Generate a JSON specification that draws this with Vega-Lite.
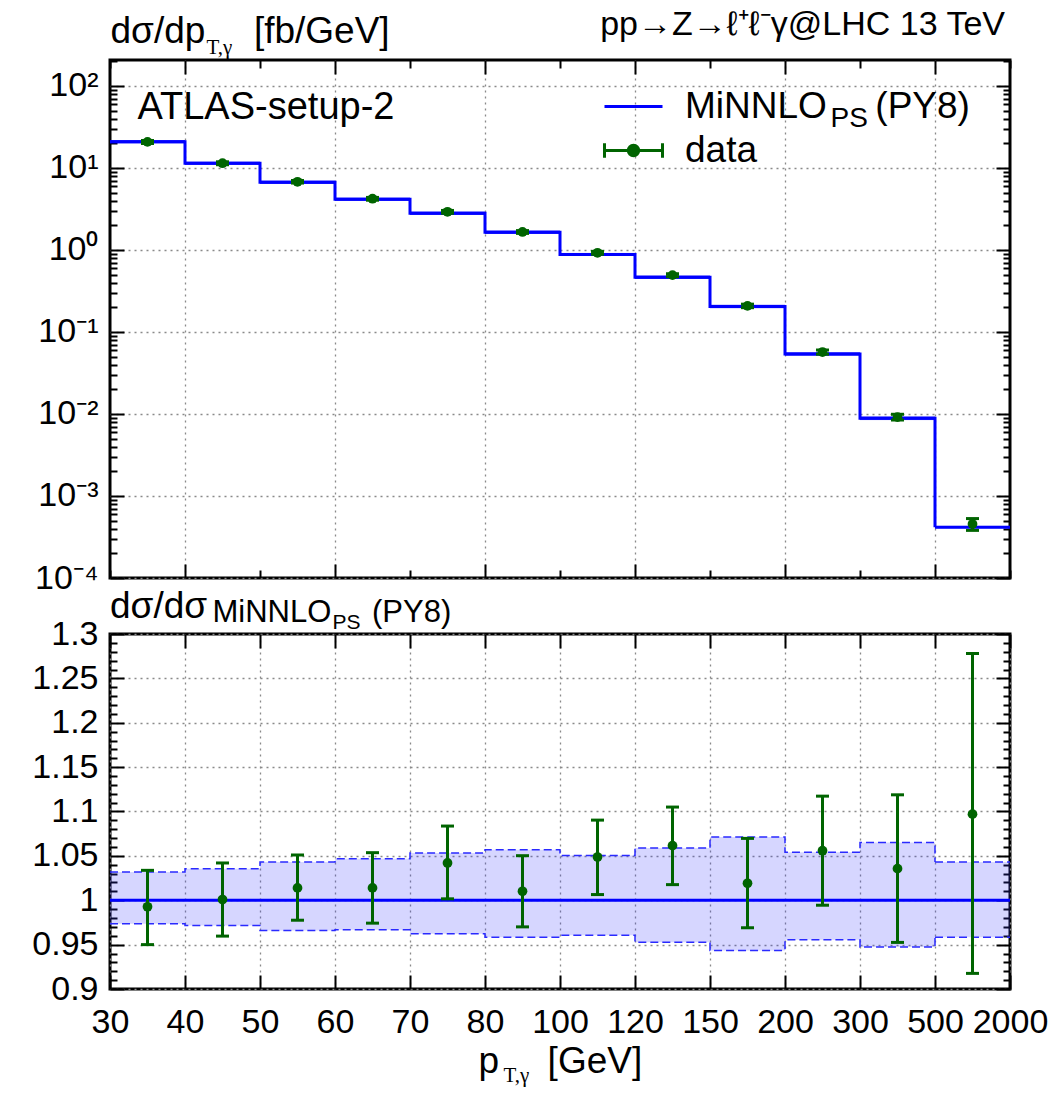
{
  "$schema": "https://vega.github.io/schema/vega-lite/v6.json",
  "background": "white",
  "padding": {"left": 30, "top": 6, "right": 0, "bottom": 0},
  "config": {
    "font": "Liberation Sans",
    "view": {"stroke": "black", "strokeWidth": 3},
    "axis": {"domain": false, "tickColor": "black", "tickWidth": 2, "labelColor": "black", "labelFont": "Liberation Sans", "labelFontSize": 34, "titleFont": "Liberation Sans", "titleFontWeight": "normal", "titleColor": "black", "labelFlush": false, "labelOverlap": false, "gridColor": "#8a8a8a", "gridDash": [2, 4], "gridWidth": 1.3},
    "title": {"font": "Liberation Sans", "fontWeight": "normal", "color": "black"}
  },
  "datasets": {
    "bins": [
      {"lo": 30, "hi": 40, "pt": 35, "theory": 20.9, "band_lo": 20.35, "band_hi": 21.57, "data": 20.75, "data_lo": 19.86, "data_hi": 21.6, "ratio": 0.9926, "ratio_lo": 0.95, "ratio_hi": 1.0337, "rband_lo": 0.9735, "rband_hi": 1.0319},
      {"lo": 40, "hi": 50, "pt": 45, "theory": 11.4, "band_lo": 11.08, "band_hi": 11.81, "data": 11.41, "data_lo": 10.94, "data_hi": 11.88, "ratio": 1.0008, "ratio_lo": 0.9596, "ratio_hi": 1.042, "rband_lo": 0.9716, "rband_hi": 1.0356},
      {"lo": 50, "hi": 60, "pt": 55, "theory": 6.69, "band_lo": 6.46, "band_hi": 6.98, "data": 6.78, "data_lo": 6.54, "data_hi": 7.03, "ratio": 1.0139, "ratio_lo": 0.9775, "ratio_hi": 1.051, "rband_lo": 0.966, "rband_hi": 1.043},
      {"lo": 60, "hi": 70, "pt": 65, "theory": 4.15, "band_lo": 4.01, "band_hi": 4.34, "data": 4.21, "data_lo": 4.04, "data_hi": 4.37, "ratio": 1.0139, "ratio_lo": 0.9742, "ratio_hi": 1.0536, "rband_lo": 0.9667, "rband_hi": 1.0468},
      {"lo": 70, "hi": 80, "pt": 75, "theory": 2.8, "band_lo": 2.694, "band_hi": 2.949, "data": 2.92, "data_lo": 2.8, "data_hi": 3.03, "ratio": 1.042, "ratio_lo": 1.0016, "ratio_hi": 1.0836, "rband_lo": 0.9622, "rband_hi": 1.0532},
      {"lo": 80, "hi": 100, "pt": 90, "theory": 1.64, "band_lo": 1.572, "band_hi": 1.733, "data": 1.657, "data_lo": 1.591, "data_hi": 1.722, "ratio": 1.0101, "ratio_lo": 0.97, "ratio_hi": 1.0502, "rband_lo": 0.9584, "rband_hi": 1.057},
      {"lo": 100, "hi": 120, "pt": 110, "theory": 0.88, "band_lo": 0.8454, "band_hi": 0.9243, "data": 0.923, "data_lo": 0.886, "data_hi": 0.959, "ratio": 1.0487, "ratio_lo": 1.0064, "ratio_hi": 1.0903, "rband_lo": 0.9607, "rband_hi": 1.0503},
      {"lo": 120, "hi": 150, "pt": 135, "theory": 0.464, "band_lo": 0.4421, "band_hi": 0.4913, "data": 0.4925, "data_lo": 0.4722, "data_hi": 0.5127, "ratio": 1.0615, "ratio_lo": 1.0176, "ratio_hi": 1.105, "rband_lo": 0.9528, "rband_hi": 1.0589},
      {"lo": 150, "hi": 200, "pt": 175, "theory": 0.204, "band_lo": 0.1925, "band_hi": 0.2185, "data": 0.2079, "data_lo": 0.1977, "data_hi": 0.2182, "ratio": 1.0191, "ratio_lo": 0.969, "ratio_hi": 1.0697, "rband_lo": 0.9435, "rband_hi": 1.0712},
      {"lo": 200, "hi": 300, "pt": 250, "theory": 0.0539, "band_lo": 0.0515, "band_hi": 0.0568, "data": 0.05691, "data_lo": 0.0536, "data_hi": 0.06022, "ratio": 1.0558, "ratio_lo": 0.9944, "ratio_hi": 1.1173, "rband_lo": 0.9555, "rband_hi": 1.054},
      {"lo": 300, "hi": 500, "pt": 400, "theory": 0.00886, "band_lo": 0.008392, "band_hi": 0.009438, "data": 0.009175, "data_lo": 0.008439, "data_hi": 0.009913, "ratio": 1.0356, "ratio_lo": 0.9525, "ratio_hi": 1.1188, "rband_lo": 0.9472, "rband_hi": 1.0652},
      {"lo": 500, "hi": 2000, "pt": 1250, "theory": 0.000415, "band_lo": 0.0003977, "band_hi": 0.0004329, "data": 0.0004553, "data_lo": 0.0003808, "data_hi": 0.0005304, "ratio": 1.097, "ratio_lo": 0.9176, "ratio_hi": 1.278, "rband_lo": 0.9584, "rband_hi": 1.0431}
    ]
  },
  "spacing": 56,
  "bounds": "flush",
  "vconcat": [
    {
      "width": 900,
      "height": 518,
      "data": {"name": "bins"},
      "title": {"text": "pp→Z→ℓ⁺ℓ⁻γ@LHC 13 TeV", "anchor": "end", "frame": "group", "orient": "top", "offset": -57, "baseline": "alphabetic", "fontSize": 34, "dx": -5},
      "layer": [
        {
          "mark": {"type": "rect", "fill": "#3030ff", "fillOpacity": 0.2},
          "encoding": {
            "x": {"field": "lo", "type": "quantitative", "scale": {"domain": [30, 40, 50, 60, 70, 80, 100, 120, 150, 200, 300, 500, 2000], "range": [0, 75, 150, 225, 300, 375, 450, 525, 600, 675, 750, 825, 900], "nice": false, "zero": false},
              "axis": {"orient": "bottom", "values": [30, 40, 50, 60, 70, 80, 100, 120, 150, 200, 300, 500, 2000], "labels": false,
                "tickSize": {"condition": {"test": "indexof([40,60,80,120,200,500], datum.value) >= 0", "value": -14}, "value": -8},
                "grid": true, "gridOpacity": {"condition": {"test": "indexof([40,60,80,120,200,500], datum.value) >= 0", "value": 1}, "value": 0},
                "title": "ATLAS-setup-2", "titleFontSize": 38, "titleX": 27, "titleY": -460, "titleAlign": "left", "titleBaseline": "alphabetic", "titleAngle": 0}},
            "x2": {"field": "hi"},
            "y": {"field": "band_lo", "type": "quantitative", "scale": {"type": "log", "domain": [0.0001, 207], "nice": false},
              "axis": {"orient": "left", "values": [0.0001, 0.0002, 0.0003, 0.0004, 0.0005, 0.0006, 0.0007, 0.0008, 0.0009, 0.001, 0.002, 0.003, 0.004, 0.005, 0.006, 0.007, 0.008, 0.009, 0.01, 0.02, 0.03, 0.04, 0.05, 0.06, 0.07, 0.08, 0.09, 0.1, 0.2, 0.3, 0.4, 0.5, 0.6, 0.7, 0.8, 0.9, 1, 2, 3, 4, 5, 6, 7, 8, 9, 10, 20, 30, 40, 50, 60, 70, 80, 90, 100, 200],
                "labelExpr": "abs(log(datum.value)/LN10 - round(log(datum.value)/LN10)) < 0.001 ? ['10⁻⁴','10⁻³','10⁻²','10⁻¹','10⁰','10¹','10²'][round(log(datum.value)/LN10)+4] : ''",
                "labelPadding": 26, "labelBaseline": "middle",
                "tickSize": {"condition": {"test": "abs(log(datum.value)/LN10 - round(log(datum.value)/LN10)) < 0.001", "value": -14}, "value": -7},
                "grid": true, "gridOpacity": {"condition": {"test": "abs(log(datum.value)/LN10 - round(log(datum.value)/LN10)) < 0.001", "value": 1}, "value": 0},
                "title": "dσ/dp\u00a0\u00a0\u00a0\u00a0\u2009[fb/GeV]", "titleFontSize": 37, "titleAngle": 0, "titleX": 0, "titleY": -18, "titleAlign": "left", "titleBaseline": "alphabetic"}},
            "y2": {"field": "band_hi"}
          }
        },
        {
          "mark": {"type": "line", "interpolate": "step-after", "strokeWidth": 3},
          "encoding": {
            "x": {"field": "lo", "type": "quantitative", "scale": {"domain": [30, 40, 50, 60, 70, 80, 100, 120, 150, 200, 300, 500, 2000], "range": [0, 75, 150, 225, 300, 375, 450, 525, 600, 675, 750, 825, 900], "nice": false, "zero": false}, "axis": null},
            "y": {"field": "theory", "type": "quantitative", "scale": {"type": "log", "domain": [0.0001, 207], "nice": false}, "axis": null},
            "color": {"datum": "MiNNLO\u00a0\u00a0\u00a0\u00a0\u2009(PY8)", "scale": {"domain": ["MiNNLO\u00a0\u00a0\u00a0\u00a0\u2009(PY8)", "data"], "range": ["#0000ff", "#006400"]},
              "legend": {"orient": "none", "legendX": 505, "legendY": 28, "title": null, "padding": 0, "labelFont": "Liberation Sans", "labelFontSize": 37, "labelColor": "black", "labelLimit": 1000, "labelOffset": 33, "rowPadding": 6, "symbolSize": 841, "symbolStrokeWidth": 3,
                "encode": {"symbols": {"update": {
                  "shape": {"signal": "datum.value === 'data' ? 'M-2,0H2M-2,-0.5V0.5M2,-0.5V0.5M0.36,0A0.36,0.36,0,1,1,-0.36,0A0.36,0.36,0,1,1,0.36,0Z' : 'M-2,0H2'"},
                  "fill": {"signal": "datum.value === 'data' ? '#006400' : 'transparent'"},
                  "stroke": {"signal": "datum.value === 'data' ? '#006400' : '#0000ff'"},
                  "strokeWidth": {"value": 3}, "opacity": {"value": 1}, "size": {"value": 841}}}}}}
          }
        },
        {
          "mark": {"type": "rule", "color": "#0000ff", "strokeWidth": 3},
          "encoding": {
            "x": {"field": "lo", "type": "quantitative", "scale": {"domain": [30, 40, 50, 60, 70, 80, 100, 120, 150, 200, 300, 500, 2000], "range": [0, 75, 150, 225, 300, 375, 450, 525, 600, 675, 750, 825, 900], "nice": false, "zero": false}, "axis": null},
            "x2": {"field": "hi"},
            "y": {"field": "theory", "type": "quantitative", "scale": {"type": "log", "domain": [0.0001, 207], "nice": false}, "axis": null}
          }
        },
        {
          "mark": {"type": "rule", "color": "#006400", "strokeWidth": 3},
          "encoding": {
            "x": {"field": "pt", "type": "quantitative", "scale": {"domain": [30, 40, 50, 60, 70, 80, 100, 120, 150, 200, 300, 500, 2000], "range": [0, 75, 150, 225, 300, 375, 450, 525, 600, 675, 750, 825, 900], "nice": false, "zero": false}, "axis": null},
            "y": {"field": "data_lo", "type": "quantitative", "scale": {"type": "log", "domain": [0.0001, 207], "nice": false}, "axis": null},
            "y2": {"field": "data_hi"}
          }
        },
        {
          "mark": {"type": "tick", "orient": "horizontal", "color": "#006400", "size": 13, "thickness": 3, "opacity": 1},
          "encoding": {
            "x": {"field": "pt", "type": "quantitative", "scale": {"domain": [30, 40, 50, 60, 70, 80, 100, 120, 150, 200, 300, 500, 2000], "range": [0, 75, 150, 225, 300, 375, 450, 525, 600, 675, 750, 825, 900], "nice": false, "zero": false}, "axis": null},
            "y": {"field": "data_lo", "type": "quantitative", "scale": {"type": "log", "domain": [0.0001, 207], "nice": false}, "axis": null}
          }
        },
        {
          "mark": {"type": "tick", "orient": "horizontal", "color": "#006400", "size": 13, "thickness": 3, "opacity": 1},
          "encoding": {
            "x": {"field": "pt", "type": "quantitative", "scale": {"domain": [30, 40, 50, 60, 70, 80, 100, 120, 150, 200, 300, 500, 2000], "range": [0, 75, 150, 225, 300, 375, 450, 525, 600, 675, 750, 825, 900], "nice": false, "zero": false}, "axis": null},
            "y": {"field": "data_hi", "type": "quantitative", "scale": {"type": "log", "domain": [0.0001, 207], "nice": false}, "axis": null}
          }
        },
        {
          "mark": {"type": "point", "filled": true, "size": 95, "opacity": 1},
          "encoding": {
            "x": {"field": "pt", "type": "quantitative", "scale": {"domain": [30, 40, 50, 60, 70, 80, 100, 120, 150, 200, 300, 500, 2000], "range": [0, 75, 150, 225, 300, 375, 450, 525, 600, 675, 750, 825, 900], "nice": false, "zero": false}, "axis": null},
            "y": {"field": "data", "type": "quantitative", "scale": {"type": "log", "domain": [0.0001, 207], "nice": false}, "axis": null},
            "color": {"datum": "data"}
          }
        },
        {
          "mark": {"type": "point", "opacity": 0},
          "encoding": {
            "x": {"field": "lo", "type": "quantitative", "scale": {"domain": [30, 40, 50, 60, 70, 80, 100, 120, 150, 200, 300, 500, 2000], "range": [0, 75, 150, 225, 300, 375, 450, 525, 600, 675, 750, 825, 900], "nice": false, "zero": false},
              "axis": {"orient": "top", "values": [30, 40, 50, 60, 70, 80, 100, 120, 150, 200, 300, 500, 2000], "labels": false, "grid": false,
                "tickSize": {"condition": {"test": "indexof([40,60,80,120,200,500], datum.value) >= 0", "value": -14}, "value": -8},
                "title": "PS", "titleFontSize": 28, "titleX": 720, "titleY": 66, "titleAlign": "left", "titleBaseline": "alphabetic", "titleAngle": 0}},
            "y": {"field": "theory", "type": "quantitative", "scale": {"type": "log", "domain": [0.0001, 207], "nice": false},
              "axis": {"orient": "right", "values": [0.0001, 0.0002, 0.0003, 0.0004, 0.0005, 0.0006, 0.0007, 0.0008, 0.0009, 0.001, 0.002, 0.003, 0.004, 0.005, 0.006, 0.007, 0.008, 0.009, 0.01, 0.02, 0.03, 0.04, 0.05, 0.06, 0.07, 0.08, 0.09, 0.1, 0.2, 0.3, 0.4, 0.5, 0.6, 0.7, 0.8, 0.9, 1, 2, 3, 4, 5, 6, 7, 8, 9, 10, 20, 30, 40, 50, 60, 70, 80, 90, 100, 200],
                "labels": false, "grid": false,
                "tickSize": {"condition": {"test": "abs(log(datum.value)/LN10 - round(log(datum.value)/LN10)) < 0.001", "value": -14}, "value": -7},
                "title": "T,γ", "titleFont": "Liberation Serif", "titleFontSize": 21, "titleAngle": 0, "titleX": -804, "titleY": -7, "titleAlign": "left", "titleBaseline": "alphabetic"}}
          }
        }
      ],
      "resolve": {"scale": {"x": "independent", "y": "independent"}}
    },
    {
      "width": 900,
      "height": 355,
      "data": {"name": "bins"},
      "title": {"text": "dσ/dσ", "anchor": "start", "frame": "group", "orient": "top", "offset": -59, "baseline": "alphabetic", "fontSize": 37},
      "layer": [
        {
          "mark": {"type": "rect", "fill": "#3030ff", "fillOpacity": 0.2},
          "encoding": {
            "x": {"field": "lo", "type": "quantitative", "scale": {"domain": [30, 40, 50, 60, 70, 80, 100, 120, 150, 200, 300, 500, 2000], "range": [0, 75, 150, 225, 300, 375, 450, 525, 600, 675, 750, 825, 900], "nice": false, "zero": false},
              "axis": {"orient": "bottom", "values": [30, 40, 50, 60, 70, 80, 100, 120, 150, 200, 300, 500, 2000], "format": "d", "labelPadding": 30, "labelBaseline": "top", "tickSize": -14, "grid": true,
                "title": "p\u00a0\u00a0\u00a0\u00a0\u2009[GeV]", "titleFontSize": 37, "titleX": 368, "titleY": 83, "titleAlign": "left", "titleBaseline": "alphabetic", "titleAngle": 0}},
            "x2": {"field": "hi"},
            "y": {"field": "rband_lo", "type": "quantitative", "scale": {"domain": [0.9, 1.3], "nice": false, "zero": false},
              "axis": {"orient": "left", "values": [0.9, 0.91, 0.92, 0.93, 0.94, 0.95, 0.96, 0.97, 0.98, 0.99, 1, 1.01, 1.02, 1.03, 1.04, 1.05, 1.06, 1.07, 1.08, 1.09, 1.1, 1.11, 1.12, 1.13, 1.14, 1.15, 1.16, 1.17, 1.18, 1.19, 1.2, 1.21, 1.22, 1.23, 1.24, 1.25, 1.26, 1.27, 1.28, 1.29, 1.3],
                "labelExpr": "abs(datum.value*20 - round(datum.value*20)) < 0.001 ? format(datum.value, '.2~f') : ''",
                "labelPadding": 26, "labelBaseline": "middle",
                "tickSize": {"condition": {"test": "abs(datum.value*20 - round(datum.value*20)) < 0.001", "value": -14}, "value": -7},
                "grid": true, "gridOpacity": {"condition": {"test": "abs(datum.value*20 - round(datum.value*20)) < 0.001", "value": 1}, "value": 0},
                "title": "MiNNLO\u00a0\u00a0\u00a0\u00a0\u2009(PY8)", "titleFontSize": 31, "titleAngle": 0, "titleX": 102, "titleY": -13, "titleAlign": "left", "titleBaseline": "alphabetic"}},
            "y2": {"field": "rband_hi"}
          }
        },
        {
          "mark": {"type": "line", "interpolate": "step-after", "color": "#2a2aff", "strokeWidth": 1.5, "strokeDash": [8, 4]},
          "encoding": {
            "x": {"field": "lo", "type": "quantitative", "scale": {"domain": [30, 40, 50, 60, 70, 80, 100, 120, 150, 200, 300, 500, 2000], "range": [0, 75, 150, 225, 300, 375, 450, 525, 600, 675, 750, 825, 900], "nice": false, "zero": false}, "axis": null},
            "y": {"field": "rband_hi", "type": "quantitative", "scale": {"domain": [0.9, 1.3], "nice": false, "zero": false}, "axis": null}
          }
        },
        {
          "mark": {"type": "line", "interpolate": "step-after", "color": "#2a2aff", "strokeWidth": 1.5, "strokeDash": [8, 4]},
          "encoding": {
            "x": {"field": "lo", "type": "quantitative", "scale": {"domain": [30, 40, 50, 60, 70, 80, 100, 120, 150, 200, 300, 500, 2000], "range": [0, 75, 150, 225, 300, 375, 450, 525, 600, 675, 750, 825, 900], "nice": false, "zero": false}, "axis": null},
            "y": {"field": "rband_lo", "type": "quantitative", "scale": {"domain": [0.9, 1.3], "nice": false, "zero": false}, "axis": null}
          }
        },
        {
          "transform": [{"filter": "datum.lo == 500"}],
          "mark": {"type": "rule", "color": "#2a2aff", "strokeWidth": 1.5, "strokeDash": [8, 4]},
          "encoding": {
            "x": {"field": "lo", "type": "quantitative", "scale": {"domain": [30, 40, 50, 60, 70, 80, 100, 120, 150, 200, 300, 500, 2000], "range": [0, 75, 150, 225, 300, 375, 450, 525, 600, 675, 750, 825, 900], "nice": false, "zero": false}, "axis": null},
            "x2": {"field": "hi"},
            "y": {"field": "rband_hi", "type": "quantitative", "scale": {"domain": [0.9, 1.3], "nice": false, "zero": false}, "axis": null}
          }
        },
        {
          "transform": [{"filter": "datum.lo == 500"}],
          "mark": {"type": "rule", "color": "#2a2aff", "strokeWidth": 1.5, "strokeDash": [8, 4]},
          "encoding": {
            "x": {"field": "lo", "type": "quantitative", "scale": {"domain": [30, 40, 50, 60, 70, 80, 100, 120, 150, 200, 300, 500, 2000], "range": [0, 75, 150, 225, 300, 375, 450, 525, 600, 675, 750, 825, 900], "nice": false, "zero": false}, "axis": null},
            "x2": {"field": "hi"},
            "y": {"field": "rband_lo", "type": "quantitative", "scale": {"domain": [0.9, 1.3], "nice": false, "zero": false}, "axis": null}
          }
        },
        {
          "mark": {"type": "rule", "color": "#0000ff", "strokeWidth": 3},
          "encoding": {
            "x": {"field": "lo", "type": "quantitative", "scale": {"domain": [30, 40, 50, 60, 70, 80, 100, 120, 150, 200, 300, 500, 2000], "range": [0, 75, 150, 225, 300, 375, 450, 525, 600, 675, 750, 825, 900], "nice": false, "zero": false}, "axis": null},
            "x2": {"field": "hi"},
            "y": {"datum": 1, "type": "quantitative", "scale": {"domain": [0.9, 1.3], "nice": false, "zero": false}, "axis": null}
          }
        },
        {
          "mark": {"type": "rule", "color": "#006400", "strokeWidth": 3},
          "encoding": {
            "x": {"field": "pt", "type": "quantitative", "scale": {"domain": [30, 40, 50, 60, 70, 80, 100, 120, 150, 200, 300, 500, 2000], "range": [0, 75, 150, 225, 300, 375, 450, 525, 600, 675, 750, 825, 900], "nice": false, "zero": false}, "axis": null},
            "y": {"field": "ratio_lo", "type": "quantitative", "scale": {"domain": [0.9, 1.3], "nice": false, "zero": false}, "axis": null},
            "y2": {"field": "ratio_hi"}
          }
        },
        {
          "mark": {"type": "tick", "orient": "horizontal", "color": "#006400", "size": 13, "thickness": 3, "opacity": 1},
          "encoding": {
            "x": {"field": "pt", "type": "quantitative", "scale": {"domain": [30, 40, 50, 60, 70, 80, 100, 120, 150, 200, 300, 500, 2000], "range": [0, 75, 150, 225, 300, 375, 450, 525, 600, 675, 750, 825, 900], "nice": false, "zero": false}, "axis": null},
            "y": {"field": "ratio_lo", "type": "quantitative", "scale": {"domain": [0.9, 1.3], "nice": false, "zero": false}, "axis": null}
          }
        },
        {
          "mark": {"type": "tick", "orient": "horizontal", "color": "#006400", "size": 13, "thickness": 3, "opacity": 1},
          "encoding": {
            "x": {"field": "pt", "type": "quantitative", "scale": {"domain": [30, 40, 50, 60, 70, 80, 100, 120, 150, 200, 300, 500, 2000], "range": [0, 75, 150, 225, 300, 375, 450, 525, 600, 675, 750, 825, 900], "nice": false, "zero": false}, "axis": null},
            "y": {"field": "ratio_hi", "type": "quantitative", "scale": {"domain": [0.9, 1.3], "nice": false, "zero": false}, "axis": null}
          }
        },
        {
          "mark": {"type": "point", "filled": true, "size": 95, "opacity": 1, "color": "#006400"},
          "encoding": {
            "x": {"field": "pt", "type": "quantitative", "scale": {"domain": [30, 40, 50, 60, 70, 80, 100, 120, 150, 200, 300, 500, 2000], "range": [0, 75, 150, 225, 300, 375, 450, 525, 600, 675, 750, 825, 900], "nice": false, "zero": false}, "axis": null},
            "y": {"field": "ratio", "type": "quantitative", "scale": {"domain": [0.9, 1.3], "nice": false, "zero": false}, "axis": null}
          }
        },
        {
          "mark": {"type": "point", "opacity": 0},
          "encoding": {
            "x": {"field": "lo", "type": "quantitative", "scale": {"domain": [30, 40, 50, 60, 70, 80, 100, 120, 150, 200, 300, 500, 2000], "range": [0, 75, 150, 225, 300, 375, 450, 525, 600, 675, 750, 825, 900], "nice": false, "zero": false},
              "axis": {"orient": "top", "values": [30, 40, 50, 60, 70, 80, 100, 120, 150, 200, 300, 500, 2000], "labels": false, "grid": false, "tickSize": -14,
                "title": "T,γ", "titleFont": "Liberation Serif", "titleFontSize": 21, "titleX": 393, "titleY": 447, "titleAlign": "left", "titleBaseline": "alphabetic", "titleAngle": 0}},
            "y": {"field": "ratio", "type": "quantitative", "scale": {"domain": [0.9, 1.3], "nice": false, "zero": false},
              "axis": {"orient": "right", "values": [0.9, 0.91, 0.92, 0.93, 0.94, 0.95, 0.96, 0.97, 0.98, 0.99, 1, 1.01, 1.02, 1.03, 1.04, 1.05, 1.06, 1.07, 1.08, 1.09, 1.1, 1.11, 1.12, 1.13, 1.14, 1.15, 1.16, 1.17, 1.18, 1.19, 1.2, 1.21, 1.22, 1.23, 1.24, 1.25, 1.26, 1.27, 1.28, 1.29, 1.3],
                "labels": false, "grid": false,
                "tickSize": {"condition": {"test": "abs(datum.value*20 - round(datum.value*20)) < 0.001", "value": -14}, "value": -7},
                "title": "PS", "titleFontSize": 21, "titleAngle": 0, "titleX": -678, "titleY": -6, "titleAlign": "left", "titleBaseline": "alphabetic"}}
          }
        }
      ],
      "resolve": {"scale": {"x": "independent", "y": "independent"}}
    }
  ]
}
